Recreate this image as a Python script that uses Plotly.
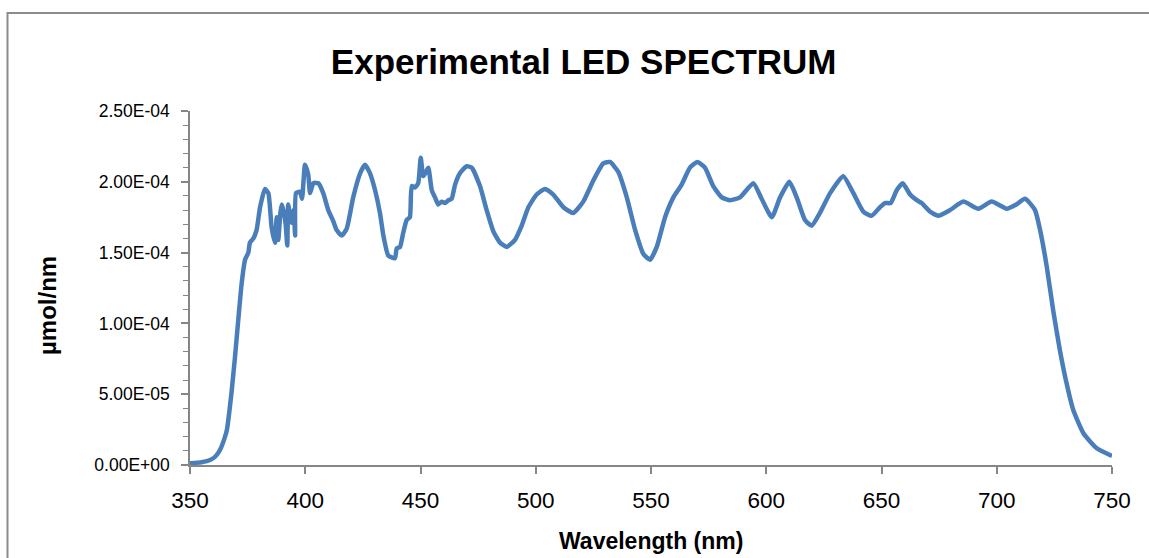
import plotly.graph_objects as go

# Measured LED spectral photon flux
wavelength_nm = [
    350, 355, 358.7, 361, 363, 365, 366, 368, 369.5, 370.3, 372.4, 373.9, 375.3, 376, 377.5,
    378.9, 380.4, 382.5, 384, 385.4, 386.9, 387.6, 388.3, 389.2, 389.8, 390.5, 391.5, 392.2,
    392.6, 393.5, 394.1, 395.0, 395.6, 396.0, 397.7, 398.6, 399.9, 401.3, 402.1, 403.5, 405.7,
    407.8, 410.0, 412.2, 413.6, 415.8, 418.0, 420.8, 423.8, 425.9, 428.1, 430.3, 432.4, 433.9,
    436.0, 438.9, 439.7, 441.1, 442.5, 444.0, 445.4, 446.2, 447.6, 449.0, 450.1, 451.2, 452.4,
    453.4, 454.9, 456.3, 457.7, 459.2, 460.6, 462.1, 463.5, 465.0, 467.1, 470.0, 472.2, 475.8,
    478.7, 481.6, 484.5, 487.4, 491.0, 493.9, 496.8, 500.4, 504.0, 507.6, 512.0, 516.3, 520.6,
    525.0, 529.3, 532.2, 535.8, 539.5, 543.1, 546.7, 549.6, 552.5, 556.1, 559.7, 563.3, 566.9,
    570.1, 573.4, 577.0, 580.7, 584.3, 588.6, 594.4, 598.0, 602.4, 606.0, 610.0, 613.2, 616.8,
    619.7, 623.3, 627.7, 633.4, 637.8, 642.1, 645.7, 649.3, 651.5, 654.0, 656.6, 659.2, 662.4,
    665.3, 667.4, 671.0, 674.6, 679.7, 685.5, 692.0, 697.8, 704.3, 708.5, 712.3, 716.6, 718.8,
    721.7, 724.5, 727.4, 730.3, 733.2, 737.6, 743.4, 750.0,
]

photon_flux = [
    1.2e-06, 2.0e-06, 3.5e-06, 6.0e-06, 1.06e-05, 1.9e-05, 2.47e-05, 5.1e-05, 7.6e-05, 9.06e-05,
    1.28e-04, 1.45e-04, 1.50e-04, 1.57e-04, 1.60e-04,
    1.66e-04, 1.82e-04, 1.95e-04, 1.92e-04, 1.68e-04, 1.57e-04, 1.75e-04, 1.59e-04, 1.78e-04,
    1.84e-04, 1.80e-04, 1.70e-04, 1.55e-04,
    1.84e-04, 1.75e-04, 1.71e-04, 1.80e-04, 1.62e-04, 1.92e-04, 1.93e-04, 1.88e-04, 2.12e-04,
    2.05e-04, 1.92e-04, 1.99e-04, 1.99e-04,
    1.92e-04, 1.80e-04, 1.72e-04, 1.66e-04, 1.62e-04, 1.67e-04, 1.89e-04, 2.06e-04, 2.12e-04,
    2.06e-04, 1.94e-04, 1.78e-04, 1.62e-04,
    1.48e-04, 1.46e-04, 1.53e-04, 1.54e-04, 1.64e-04, 1.73e-04, 1.75e-04, 1.97e-04, 1.96e-04,
    1.99e-04, 2.17e-04, 2.04e-04, 2.07e-04,
    2.10e-04, 1.94e-04, 1.89e-04, 1.84e-04, 1.86e-04, 1.85e-04, 1.87e-04, 1.88e-04, 1.98e-04,
    2.06e-04, 2.11e-04, 2.10e-04, 1.97e-04,
    1.80e-04, 1.65e-04, 1.57e-04, 1.54e-04, 1.59e-04, 1.69e-04, 1.82e-04, 1.91e-04, 1.95e-04,
    1.91e-04, 1.82e-04, 1.78e-04, 1.86e-04,
    2.01e-04, 2.13e-04, 2.14e-04, 2.07e-04, 1.89e-04, 1.66e-04, 1.49e-04, 1.45e-04, 1.54e-04,
    1.75e-04, 1.89e-04, 1.98e-04, 2.10e-04,
    2.14e-04, 2.10e-04, 1.97e-04, 1.89e-04, 1.87e-04, 1.89e-04, 1.99e-04, 1.88e-04, 1.75e-04,
    1.89e-04, 2.00e-04, 1.89e-04, 1.73e-04,
    1.69e-04, 1.78e-04, 1.92e-04, 2.04e-04, 1.92e-04, 1.79e-04, 1.76e-04, 1.82e-04, 1.85e-04,
    1.85e-04, 1.94e-04, 1.99e-04, 1.91e-04,
    1.87e-04, 1.85e-04, 1.79e-04, 1.76e-04, 1.80e-04, 1.86e-04, 1.81e-04, 1.86e-04, 1.81e-04,
    1.84e-04, 1.88e-04, 1.80e-04, 1.66e-04,
    1.40e-04, 1.09e-04, 8.1e-05, 5.77e-05, 3.88e-05, 2.24e-05, 1.18e-05, 6.4e-06,
]

x_ticks = [350, 400, 450, 500, 550, 600, 650, 700, 750]
y_ticks = [0, 5e-05, 1e-04, 1.5e-04, 2e-04, 2.5e-04]
y_tick_labels = ["0.00E+00", "5.00E-05", "1.00E-04", "1.50E-04", "2.00E-04", "2.50E-04"]

FONT = "Liberation Sans, Arial, sans-serif"
AXIS_GREY = "#868686"

fig = go.Figure(
    go.Scatter(
        x=wavelength_nm,
        y=photon_flux,
        mode="lines",
        line=dict(color="#4A7EBB", width=4.5, shape="spline", smoothing=0.5),
        hoverinfo="x+y",
    )
)

fig.update_layout(
    width=1149,
    height=558,
    margin=dict(l=190, r=37, t=111, b=93),
    paper_bgcolor="white",
    plot_bgcolor="white",
    showlegend=False,
    font=dict(family=FONT, color="black"),
    title=dict(
        text="<b>Experimental LED SPECTRUM</b>",
        x=0.508,
        xanchor="center",
        y=1 - 62 / 558,
        yanchor="middle",
        yref="container",
        font=dict(size=35, family=FONT, color="black"),
    ),
    xaxis=dict(
        range=[350, 750],
        tickvals=x_ticks,
        ticks="outside",
        ticklen=7,
        tickcolor=AXIS_GREY,
        tickwidth=1.5,
        showline=True,
        linecolor=AXIS_GREY,
        linewidth=1.5,
        showgrid=False,
        zeroline=False,
        tickfont=dict(size=22.5, family=FONT),
        ticklabelstandoff=7,
    ),
    yaxis=dict(
        range=[0, 2.5e-04],
        tickvals=y_ticks,
        ticktext=y_tick_labels,
        ticks="outside",
        ticklen=7,
        tickcolor=AXIS_GREY,
        tickwidth=1.5,
        minor=dict(dtick=1e-05, ticks="outside", ticklen=5, tickcolor=AXIS_GREY, tickwidth=1),
        showline=True,
        linecolor=AXIS_GREY,
        linewidth=1.5,
        showgrid=False,
        zeroline=False,
        tickfont=dict(size=17.5, family=FONT),
        ticklabelstandoff=8,
    ),
    annotations=[
        dict(
            text="<b>Wavelength (nm)</b>",
            xref="paper", yref="paper",
            x=0.5, y=(465 - 541) / 354,
            xanchor="center", yanchor="middle",
            showarrow=False,
            font=dict(size=23, family=FONT, color="black"),
        ),
        dict(
            text="<b>µmol/nm</b>",
            xref="paper", yref="paper",
            x=(47 - 190) / 922, y=(465 - 306) / 354,
            xanchor="center", yanchor="middle",
            textangle=-90,
            showarrow=False,
            font=dict(size=24, family=FONT, color="black"),
        ),
    ],
    shapes=[
        # chart-area frame (top and left edges visible)
        dict(
            type="rect",
            xref="paper", yref="paper",
            x0=(7.5 - 190) / 922, x1=1.2,
            y0=-0.5, y1=(465 - 13) / 354,
            line=dict(color="#8c8c8c", width=2),
            fillcolor="rgba(0,0,0,0)",
            layer="below",
        )
    ],
)

fig.write_html("out.html")
